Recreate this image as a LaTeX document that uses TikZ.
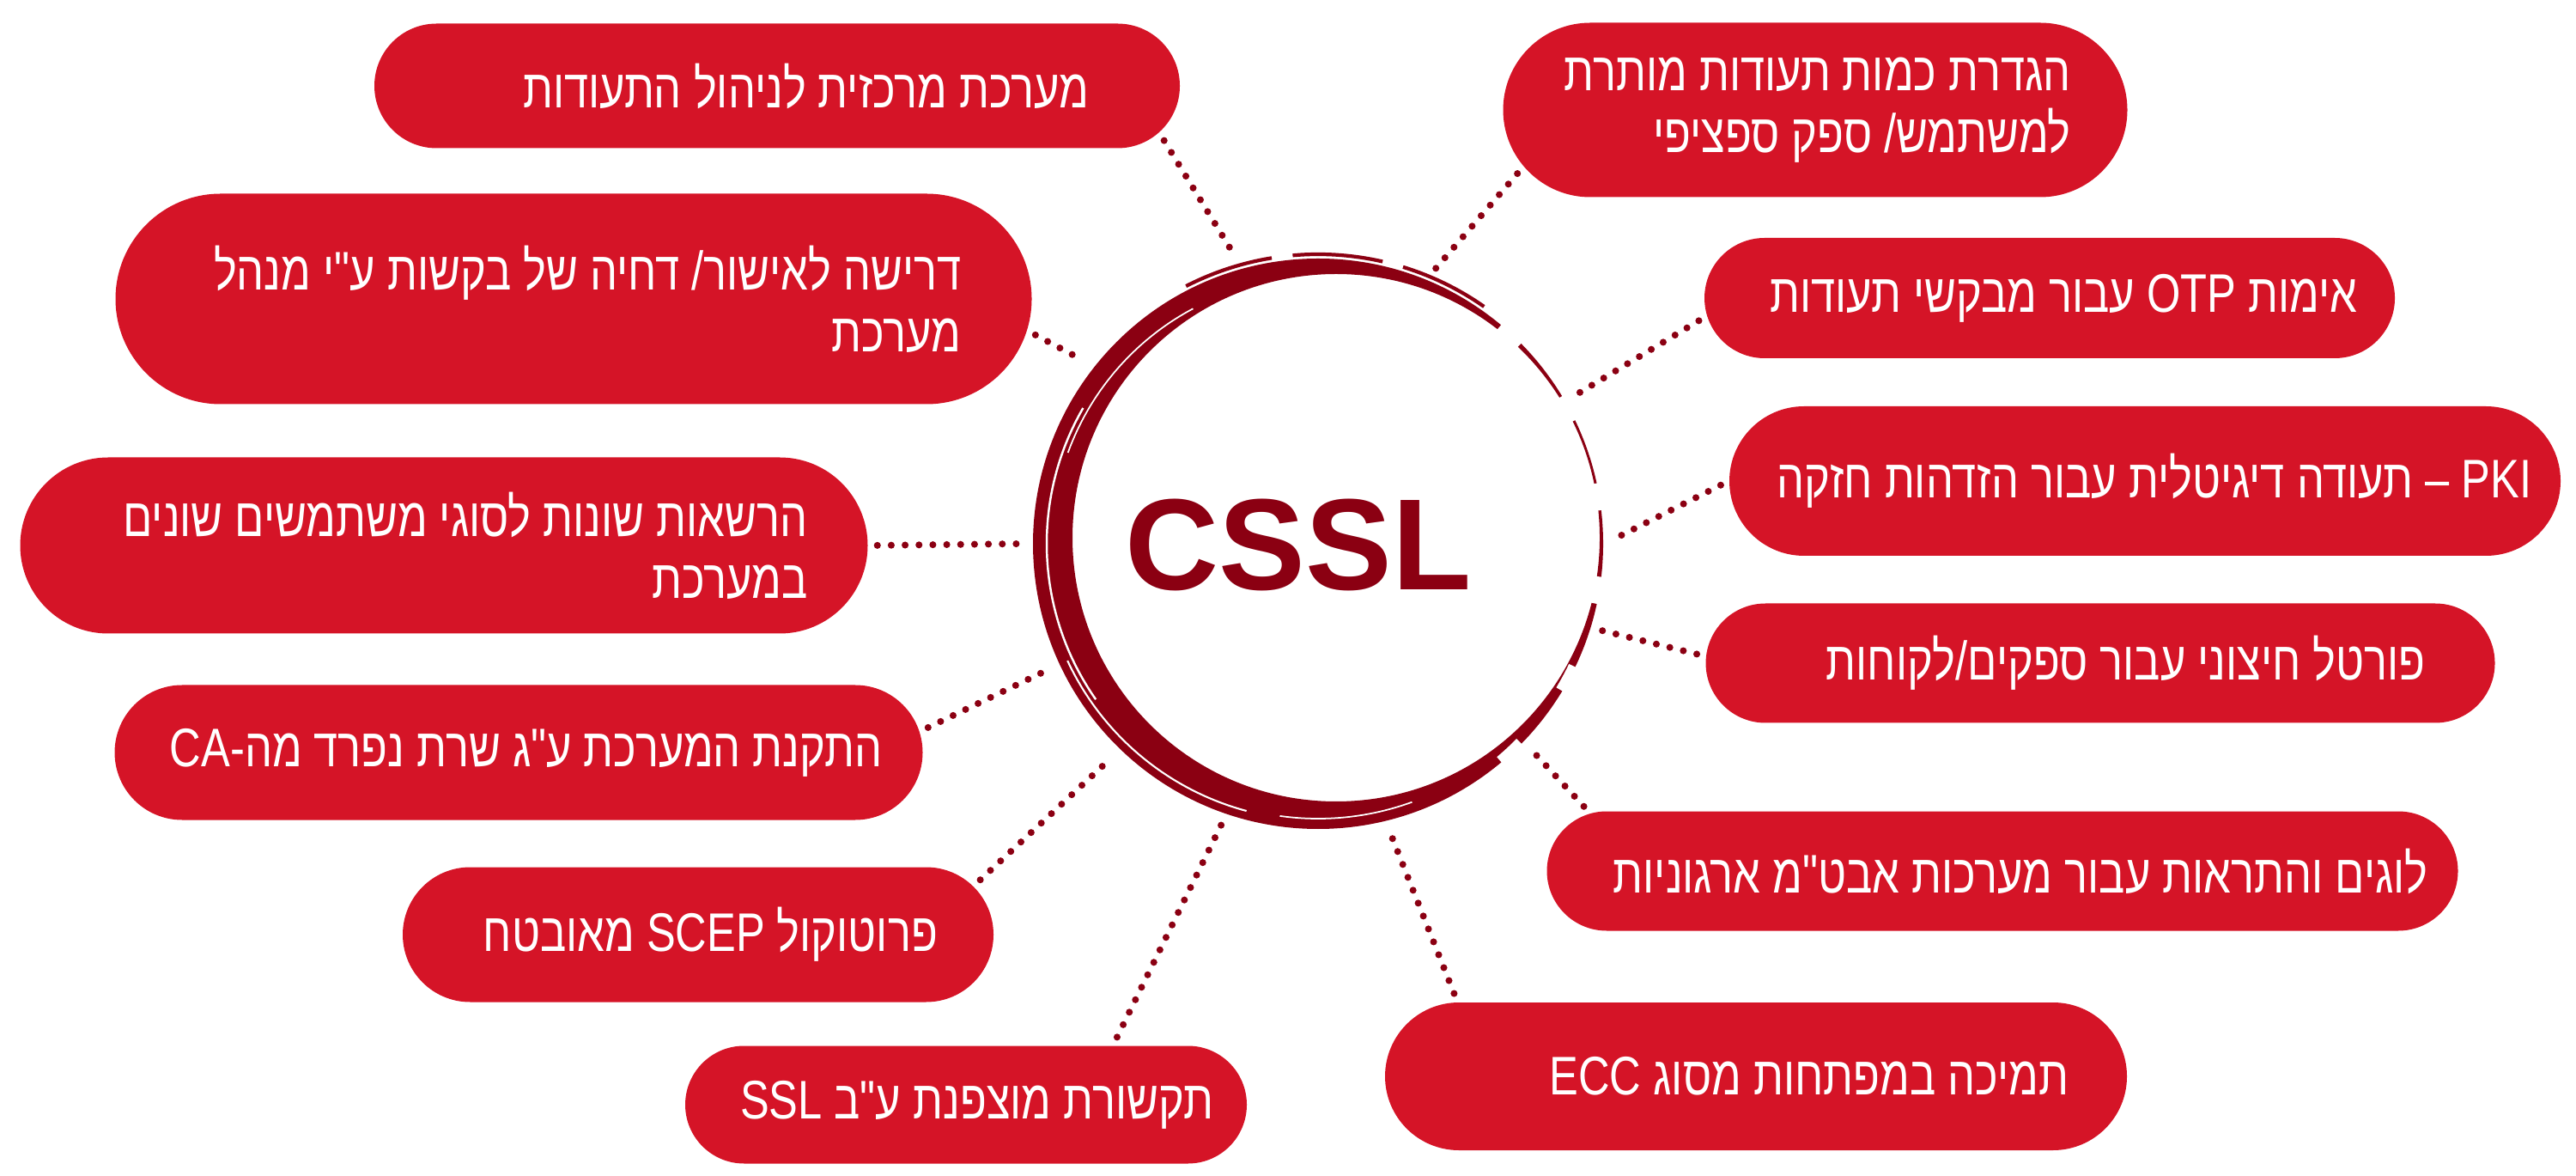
\documentclass[tikz,border=0pt]{standalone}
\usepackage{fontspec}
\usetikzlibrary{shapes.misc}
\TeXXeTstate=1
\newfontfamily\hebfont[Script=Hebrew,FakeStretch=0.8,Ligatures=TeXOff]{Liberation Sans}
\newfontfamily\logofont{Liberation Sans}
\definecolor{boxred}{RGB}{213,20,39}
\definecolor{ringred}{RGB}{139,0,18}
\tikzset{
  bubble/.style={rounded rectangle, fill=boxred, inner sep=0pt},
  bubbletext/.style={anchor=east, text=white, align=right, inner sep=0pt,
    font=\hebfont\fontsize{18}{20.5}\selectfont},
  dotlink/.style={ringred, line width=2.3pt, line cap=round,
    dash pattern=on 0pt off 4.6pt, shorten <=3pt},
}

\begin{document}
\begin{tikzpicture}
    \useasboundingbox (0,0) rectangle (30,13.68);

    % Centre circle with the title
    \node[circle, minimum size=6.9cm, inner sep=0pt] (core) at (15.35,7.35) {};
    \node[text=ringred, font=\logofont\bfseries\fontsize{43}{43}\selectfont] (title) at (15.12,7.34) {CSSL};

    % Brush ring, thick on the left and bottom, thin on the right
    \fill[ringred, even odd rule] (15.35,7.35) circle (3.32) (15.56,7.42) circle (3.07);
    \draw[white, line width=0.7pt] (15.35,7.35) ++(150:3.16) arc[start angle=150, end angle=215, radius=3.16];
    \draw[white, line width=0.5pt] (15.35,7.35) ++(118:3.1) arc[start angle=118, end angle=160, radius=3.1];
    \draw[white, line width=0.6pt] (15.35,7.35) ++(205:3.22) arc[start angle=205, end angle=255, radius=3.22];
    \draw[white, line width=0.5pt] (15.35,7.35) ++(262:3.2) arc[start angle=262, end angle=290, radius=3.2];
    \draw[white, line width=0.12cm, dash pattern=on 9pt off 22pt] (15.35,7.35) ++(-50:3.3) arc[start angle=-50, end angle=55, radius=3.3];
    \draw[ringred, line width=1.2pt, dash pattern=on 30pt off 7pt] (15.35,7.35) ++(55:3.37) arc[start angle=55, end angle=120, radius=3.37];

    % Boxes on the left side
    \node[bubble, minimum width=9.38cm, minimum height=1.45cm] (b1) at (9.05,12.68) {};
    \node[bubble, minimum width=10.67cm, minimum height=2.45cm] (b3) at (6.68,10.20) {};
    \node[bubble, minimum width=9.87cm, minimum height=2.05cm] (b7) at (5.17,7.33) {};
    \node[bubble, minimum width=9.41cm, minimum height=1.57cm] (b8) at (6.04,4.92) {};
    \node[bubble, minimum width=6.88cm, minimum height=1.57cm] (b9) at (8.13,2.80) {};
    \node[bubble, minimum width=6.54cm, minimum height=1.37cm] (b10) at (11.25,0.82) {};

    % Boxes on the right side
    \node[bubble, minimum width=7.27cm, minimum height=2.03cm] (b2) at (21.14,12.40) {};
    \node[bubble, minimum width=8.04cm, minimum height=1.40cm] (b4) at (23.87,10.21) {};
    \node[bubble, minimum width=9.68cm, minimum height=1.74cm] (b5) at (24.98,8.08) {};
    \node[bubble, minimum width=9.19cm, minimum height=1.39cm] (b6) at (24.46,5.96) {};
    \node[bubble, minimum width=10.61cm, minimum height=1.39cm] (b11) at (23.32,3.54) {};
    \node[bubble, minimum width=8.64cm, minimum height=1.72cm] (b12) at (20.45,1.15) {};

    % Texts, right aligned inside the boxes
    \node[bubbletext] (t1) at ([xshift=-1.06cm]b1.east) {\beginR מערכת מרכזית לניהול התעודות\endR};
    \node[bubbletext] (t3) at ([xshift=-0.82cm]b3.east) {\beginR דרישה לאישור/ דחיה של בקשות ע"י מנהל\endR\\\beginR מערכת\endR};
    \node[bubbletext] (t7) at ([xshift=-0.70cm]b7.east) {\beginR הרשאות שונות לסוגי משתמשים שונים\endR\\\beginR במערכת\endR};
    \node[bubbletext] (t8) at ([xshift=-0.47cm]b8.east) {\beginR התקנת המערכת ע"ג שרת נפרד מה-CA\endR};
    \node[bubbletext] (t9) at ([xshift=-0.65cm]b9.east) {\beginR פרוטוקול SCEP מאובטח\endR};
    \node[bubbletext] (t10) at ([xshift=-0.39cm]b10.east) {\beginR תקשורת מוצפנת ע"ב SSL\endR};
    \node[bubbletext] (t2) at ([xshift=-0.66cm]b2.east) {\beginR הגדרת כמות תעודות מותרת\endR\\\beginR למשתמש/ ספק ספציפי\endR};
    \node[bubbletext] (t4) at ([xshift=-0.44cm]b4.east) {\beginR אימות OTP עבור מבקשי תעודות\endR};
    \node[bubbletext] (t5) at ([xshift=-0.34cm]b5.east) {\beginR PKI – תעודה דיגיטלית עבור הזדהות חזקה\endR};
    \node[bubbletext] (t6) at ([xshift=-0.81cm]b6.east) {\beginR פורטל חיצוני עבור ספקים/לקוחות\endR};
    \node[bubbletext] (t11) at ([xshift=-0.35cm]b11.east) {\beginR לוגים והתראות עבור מערכות אבט"מ ארגוניות\endR};
    \node[bubbletext] (t12) at ([xshift=-0.68cm]b12.east) {\beginR תמיכה במפתחות מסוג ECC\endR};

    % Dotted links from the boxes to the circle
    \draw[dotlink] (b1.-7) -- (core.106);
    \draw[dotlink] (b3.-4) -- (core.142);
    \draw[dotlink] (b7.east) -- (core.180);
    \draw[dotlink] (b8.3) -- (core.205);
    \draw[dotlink] (b9.10) -- (core.226);
    \draw[dotlink] (b10.22) -- (core.251);
    \draw[dotlink] (b2.191) -- (core.67);
    \draw[dotlink] (b4.183) -- (core.30);
    \draw[dotlink] (b5.180) -- (core.1);
    \draw[dotlink] (b6.179) -- (core.-17);
    \draw[dotlink] (b11.172) -- (core.-44);
    \draw[dotlink] (b12.166) -- (core.-76);
\end{tikzpicture}
\end{document}
